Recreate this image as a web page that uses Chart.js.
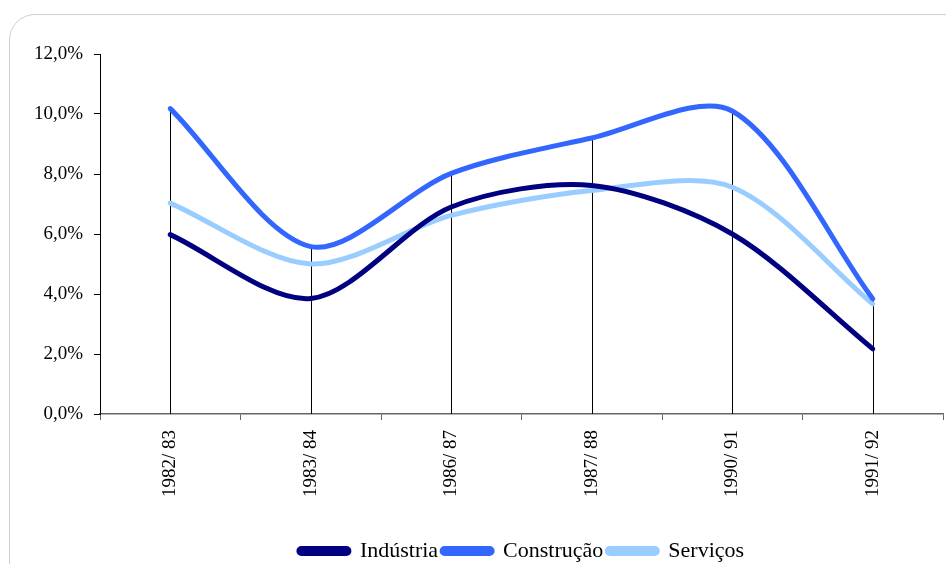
<!DOCTYPE html>
<html>
<head>
<meta charset="utf-8">
<script src="https://cdn.jsdelivr.net/npm/chart.js@4"></script>
<style>
    html, body { margin: 0; padding: 0; background: #fff; }
    #moldura {
        position: absolute; left: 9px; top: 14px; width: 960px; height: 580px;
        border: 1.5px solid #cfcfcf; border-radius: 26px; box-sizing: border-box;
    }
    #caixa { position: absolute; left: 0; top: 0; width: 946px; height: 564px; }
</style>
</head>
<body>
<div id="moldura"></div>
<div id="caixa"><canvas id="graficaTaxas" width="946" height="564"></canvas></div>
<script>
const anos = ["1982/ 83", "1983/ 84", "1986/ 87", "1987/ 88", "1990/ 91", "1991/ 92"];
const industria = [5.98, 3.85, 6.9, 7.62, 6.0, 2.17];
const construcao = [10.18, 5.58, 8.02, 9.2, 10.1, 3.84];
const servicos = [7.03, 5.0, 6.62, 7.45, 7.56, 3.67];
const marcasY = [0, 2, 4, 6, 8, 10, 12];

const fonte = "'Liberation Serif', 'Times New Roman', serif";

// linhas verticais desde o eixo até ao valor mais alto de cada ano
const linhasVerticais = {
    id: "linhasVerticais",
    beforeDatasetsDraw(chart) {
        const ctx = chart.ctx;
        const x = chart.scales.x;
        const y = chart.scales.y;
        ctx.save();
        ctx.strokeStyle = "#000";
        ctx.lineWidth = 1;
        anos.forEach((ano, i) => {
            const topo = Math.max(industria[i], construcao[i], servicos[i]);
            const px = Math.round(x.getPixelForValue(i)) + 0.5;
            ctx.beginPath();
            ctx.moveTo(px, y.getPixelForValue(0));
            ctx.lineTo(px, y.getPixelForValue(topo));
            ctx.stroke();
        });
        ctx.restore();
    }
};

function serie(nome, dados, cor) {
    return {
        label: nome,
        data: dados,
        borderColor: cor,
        backgroundColor: cor,
        borderWidth: 5,
        tension: 0.3,
        pointRadius: 0,
        borderCapStyle: "round",
        borderJoinStyle: "round",
        fill: false
    };
}

new Chart(document.getElementById("graficaTaxas").getContext("2d"), {
    type: "line",
    data: {
        labels: anos,
        datasets: [
            serie("Indústria", industria, "#000080"),
            serie("Construção", construcao, "#3366FF"),
            serie("Serviços", servicos, "#99CCFF")
        ]
    },
    plugins: [linhasVerticais],
    options: {
        responsive: false,
        animation: false,
        layout: { padding: { left: 0, right: 3, top: 54, bottom: -8 } },
        plugins: {
            tooltip: { enabled: false },
            legend: {
                position: "bottom",
                fullSize: false,
                labels: {
                    font: { family: fonte, size: 22 },
                    color: "#000",
                    boxWidth: 50,
                    boxHeight: 5,
                    padding: 4,
                    useBorderRadius: true,
                    borderRadius: 2.5
                }
            }
        },
        scales: {
            x: {
                offset: true,
                grid: { offset: true, drawOnChartArea: false, drawTicks: true, tickLength: 6, color: "#666" },
                border: { display: true, color: "#666", width: 1.5 },
                ticks: {
                    font: { family: fonte, size: 19 },
                    color: "#000",
                    minRotation: 90,
                    maxRotation: 90,
                    padding: 10
                },
                afterFit(escala) { escala.height = 122; }
            },
            y: {
                min: 0,
                max: 12,
                afterBuildTicks(escala) { escala.ticks = marcasY.map(v => ({ value: v })); },
                grid: { drawOnChartArea: false, drawTicks: true, tickLength: 6, color: "#000" },
                border: { display: true, color: "#000", width: 1 },
                ticks: {
                    font: { family: fonte, size: 19 },
                    color: "#000",
                    padding: 11,
                    callback: v => v.toFixed(1).replace(".", ",") + "%"
                },
                afterFit(escala) { escala.width = 100; }
            }
        }
    }
});
</script>
</body>
</html>
